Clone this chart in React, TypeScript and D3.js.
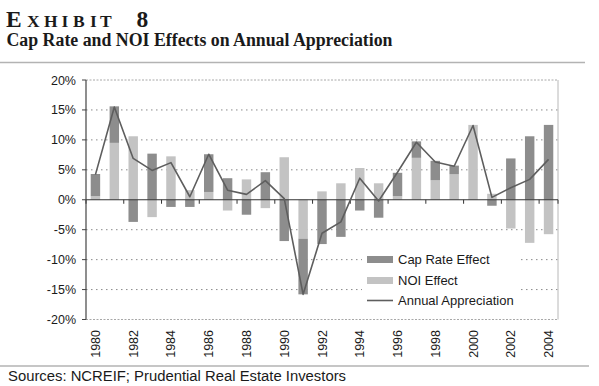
import React from 'react'
import * as d3 from 'd3'

const years = [
  '1980', '1981', '1982', '1983', '1984', '1985', '1986', '1987', '1988', '1989',
  '1990', '1991', '1992', '1993', '1994', '1995', '1996', '1997', '1998', '1999',
  '2000', '2001', '2002', '2003', '2004',
]

// values in percent
const noiEffect = [
  0.6, 9.5, 10.6, -2.9, 7.25, 1.6, 1.3, -1.8, 3.4, -1.4,
  7.1, -6.5, 1.4, 2.75, 5.3, 2.75, 0.6, 7.0, 3.25, 4.25,
  12.5, 1.0, -4.8, -7.2, -5.75,
]
const capRateEffect = [
  3.7, 6.1, -3.7, 7.7, -1.2, -1.2, 6.3, 3.6, -2.5, 4.6,
  -6.9, -9.3, -7.4, -6.2, -1.8, -3.0, 3.9, 2.75, 3.25, 1.45,
  0, -1.0, 6.9, 10.6, 12.5,
]
const annualAppreciation = [
  4.2, 15.5, 6.9, 4.9, 6.2, 0.5, 7.6, 1.6, 0.9, 3.2,
  0.2, -15.8, -5.6, -3.7, 3.6, -0.2, 4.6, 9.6, 6.3, 5.6,
  12.4, 0.4, 2.0, 3.4, 6.75,
]

const yTicks = [20, 15, 10, 5, 0, -5, -10, -15, -20]
const yearLabels = years.filter((_, i) => i % 2 === 0)

const DARK = '#8d8d8d'
const LIGHT = '#c3c3c3'
const LINE = '#5e5e5e'
const SANS = 'Liberation Sans, Arial, sans-serif'
const SERIF = 'Liberation Serif, Times New Roman, serif'

export default function App() {
  const W = 599
  const H = 386
  const plot = { left: 86, right: 558, top: 80, bottom: 319.5 }

  const x = d3.scaleBand<string>()
    .domain(years)
    .range([plot.left, plot.right])
    .paddingInner(0.5)
    .paddingOuter(0.25)
  const step = x.step()
  const y = d3.scaleLinear().domain([-20, 20]).range([plot.bottom, plot.top])

  const rows = years.map((yr, i) => ({ year: yr, noi: noiEffect[i], cap: capRateEffect[i] }))
  const stacked = d3.stack<any>()
    .keys(['noi', 'cap'])
    .offset(d3.stackOffsetDiverging)(rows)

  const cx = (yr: string) => (x(yr) ?? 0) + x.bandwidth() / 2
  const line = d3.line<number>()
    .x((_, i) => cx(years[i]))
    .y((d) => y(d))

  // small ticks on the zero line, every second category boundary
  const boundaryTicks = yearLabels.map((_, k) => plot.left + k * 2 * step)
  boundaryTicks.push(plot.right)

  const legendX = 367
  const legendY = [259.5, 280.5, 300.5]

  return (
    <svg width={W} height={H} style={{ position: 'absolute', left: 0, top: 0, background: '#fff' }}>
      {/* header */}
      <text x={6} y={26.7} fontFamily={SERIF} fontSize={23.5} fontWeight="bold" fill="#1a1a1a">E</text>
      <text
        x="27 44 61.5 73 90 100"
        y={26.7}
        fontFamily={SERIF}
        fontSize={17.5}
        fontWeight="bold"
        fill="#1a1a1a"
      >
        XHIBIT
      </text>
      <text x={136.5} y={26.7} fontFamily={SERIF} fontSize={23.5} fontWeight="bold" fill="#1a1a1a">8</text>
      <text
        x={6.5}
        y={45.5}
        fontFamily={SERIF}
        fontSize={18.5}
        fontWeight="bold"
        fill="#1a1a1a"
        textLength={386}
        lengthAdjust="spacingAndGlyphs"
      >
        Cap Rate and NOI Effects on Annual Appreciation
      </text>

      {/* frame lines */}
      <line x1={0} x2={585} y1={62.5} y2={62.5} stroke="#b3b3b3" strokeWidth={1.5} />
      <line x1={0} x2={589} y1={366} y2={366} stroke="#b3b3b3" strokeWidth={1.5} />

      {/* gridlines */}
      {yTicks.filter((t) => t !== 0).map((t) => (
        <line
          key={t}
          x1={plot.left}
          x2={plot.right}
          y1={y(t)}
          y2={y(t)}
          stroke={Math.abs(t) === 20 ? '#a8a8a8' : '#8a8a8a'}
          strokeWidth={1}
          strokeDasharray={Math.abs(t) === 20 ? '2,1.5' : '1.5,3.5'}
        />
      ))}
      <line x1={plot.right} x2={plot.right} y1={plot.top} y2={plot.bottom} stroke="#b8b8b8" strokeWidth={1} />

      {/* bars */}
      {stacked.map((layer) => (
        <g key={layer.key} fill={layer.key === 'noi' ? LIGHT : DARK}>
          {layer.map((d, i) => {
            const top = y(Math.max(d[0], d[1]))
            const bot = y(Math.min(d[0], d[1]))
            return (
              <rect
                key={i}
                x={x(years[i])}
                y={top}
                width={x.bandwidth()}
                height={Math.max(0, bot - top)}
              />
            )
          })}
        </g>
      ))}

      {/* zero axis with ticks */}
      <line x1={plot.left} x2={plot.right} y1={y(0)} y2={y(0)} stroke="#333" strokeWidth={1.2} />
      {boundaryTicks.map((bx, i) => (
        <line key={i} x1={bx} x2={bx} y1={y(0)} y2={y(0) + 4} stroke="#333" strokeWidth={1} />
      ))}

      {/* y axis */}
      <line x1={plot.left} x2={plot.left} y1={plot.top} y2={plot.bottom} stroke="#444" strokeWidth={1.2} />
      {yTicks.map((t) => (
        <g key={t}>
          <line x1={plot.left - 4} x2={plot.left} y1={y(t)} y2={y(t)} stroke="#444" strokeWidth={1} />
          <text
            x={plot.left - 10}
            y={y(t)}
            dy="0.36em"
            textAnchor="end"
            fontFamily={SANS}
            fontSize={12.5}
            fill="#1a1a1a"
          >
            {`${t}%`}
          </text>
        </g>
      ))}

      {/* appreciation line */}
      <path d={line(annualAppreciation) ?? ''} fill="none" stroke={LINE} strokeWidth={1.6} strokeLinejoin="round" />

      {/* year labels */}
      {yearLabels.map((yr) => (
        <text
          key={yr}
          transform={`translate(${cx(yr) + 4.5},330) rotate(-90)`}
          textAnchor="end"
          fontFamily={SANS}
          fontSize={12.5}
          fill="#1a1a1a"
        >
          {yr}
        </text>
      ))}

      {/* legend */}
      <rect x={362} y={248} width={156} height={64} fill="#fff" />
      <rect x={legendX} y={legendY[0] - 3.5} width={26} height={7} fill={DARK} />
      <rect x={legendX} y={legendY[1] - 3.5} width={26} height={7} fill={LIGHT} />
      <line x1={legendX} x2={legendX + 26} y1={legendY[2]} y2={legendY[2]} stroke={LINE} strokeWidth={1.6} />
      {['Cap Rate Effect', 'NOI Effect', 'Annual Appreciation'].map((label, i) => (
        <text
          key={label}
          x={legendX + 31}
          y={legendY[i]}
          dy="0.36em"
          fontFamily={SANS}
          fontSize={13}
          fill="#1a1a1a"
        >
          {label}
        </text>
      ))}

      {/* source */}
      <text x={8} y={381} fontFamily={SANS} fontSize={14} fill="#1a1a1a" textLength={338} lengthAdjust="spacingAndGlyphs">
        Sources: NCREIF; Prudential Real Estate Investors
      </text>
    </svg>
  )
}
